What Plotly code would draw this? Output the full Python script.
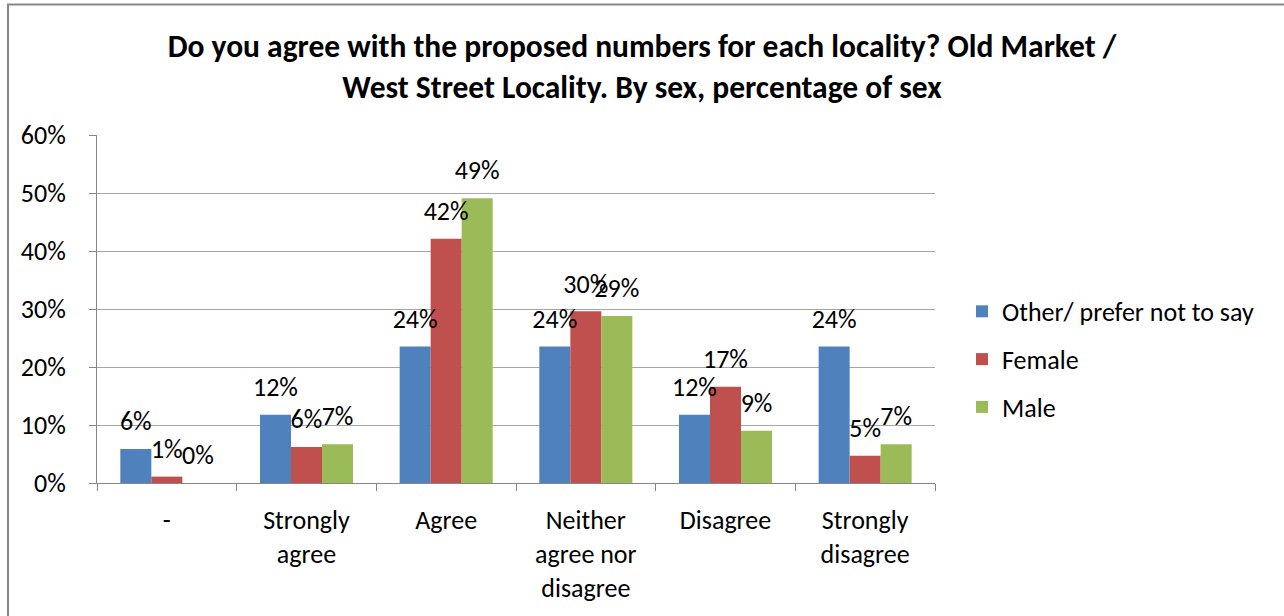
import plotly.graph_objects as go
import numpy as np

categories = ["-", "Strongly<br>agree", "Agree", "Neither<br>agree nor<br>disagree", "Disagree", "Strongly<br>disagree"]
series_names = ["Other/ prefer not to say", "Female", "Male"]
other = [0.0588, 0.1176, 0.2353, 0.2353, 0.1176, 0.2353]
female = [0.011, 0.062, 0.421, 0.296, 0.166, 0.047]
male = [0.0, 0.067, 0.491, 0.288, 0.090, 0.067]
y_ticks = [0, 0.1, 0.2, 0.3, 0.4, 0.5, 0.6]

colors = ["#4F81BD", "#C0504D", "#9BBB59"]
FONT = "Carlito, Calibri, Lato, sans-serif"
FS = 26

W, H = 1284, 616
L, R, T, B = 97, 349, 135, 129
pw, ph = W - L - R, H - T - B

bar_w = 0.222
offsets = [-bar_w, 0.0, bar_w]
base = np.arange(len(categories))

fig = go.Figure()
for name, vals, col, off in zip(series_names, [other, female, male], colors, offsets):
    fig.add_trace(go.Bar(
        x=base + off, y=vals, width=bar_w, name=name,
        marker=dict(color=col, line=dict(width=0)),
        legendgroup=name,
    ))
for name, vals, off in zip(series_names, [other, female, male], offsets):
    fig.add_trace(go.Scatter(
        x=base + off, y=vals, mode="markers+text",
        text=[f"{v*100:.0f}%" for v in vals],
        textposition="top center",
        marker=dict(size=18, opacity=0),
        textfont=dict(family=FONT, size=FS, color="#000000"),
        showlegend=False, hoverinfo="skip", cliponaxis=False,
    ))

def px_x(px):
    return (px - L) / pw

def px_y(py):
    return (H - B - py) / ph

fig.add_shape(type="rect", xref="paper", yref="paper",
              x0=px_x(8), x1=px_x(1340), y0=px_y(680), y1=px_y(3),
              line=dict(color="#878787", width=2), fillcolor="rgba(0,0,0,0)", layer="below")

fig.update_layout(
    width=W, height=H,
    margin=dict(l=L, r=R, t=T, b=B),
    paper_bgcolor="white", plot_bgcolor="white",
    barmode="overlay",
    font=dict(family=FONT, size=FS, color="#000000"),
    title=dict(
        text="Do you agree with the proposed numbers for each locality? Old Market /<br>West Street Locality. By sex, percentage of sex",
        x=0.5, xref="container", xanchor="center",
        y=1 - 57 / H, yref="container", yanchor="middle",
        font=dict(family=FONT, size=31.5, color="#000000", weight="bold"),
    ),
    legend=dict(
        x=px_x(962), y=px_y(362), xanchor="left", yanchor="middle",
        font=dict(family=FONT, size=FS), tracegroupgap=11,
        bgcolor="rgba(0,0,0,0)",
    ),
    xaxis=dict(
        range=[-0.5, len(categories) - 0.5],
        tickmode="array", tickvals=list(base), ticktext=categories,
        ticks="", showgrid=False, zeroline=False,
        showline=True, linecolor="#868686", linewidth=1,
        ticklabelstandoff=14,
        minor=dict(tickmode="array", tickvals=list(np.arange(-0.5, len(categories), 1.0)),
                   ticks="outside", ticklen=7, tickcolor="#868686", showgrid=False),
        fixedrange=True,
    ),
    yaxis=dict(
        range=[0, 0.6], tickmode="array", tickvals=y_ticks,
        tickformat=".0%", ticks="outside", ticklen=7, tickcolor="#868686",
        showgrid=True, gridcolor="#A6A6A6", gridwidth=1, zeroline=False,
        showline=True, linecolor="#868686", linewidth=1,
        ticklabelstandoff=18, fixedrange=True,
    ),
)

fig.write_html("out.html", config={"displayModeBar": False},
               post_script="document.body.style.margin='0px';")
